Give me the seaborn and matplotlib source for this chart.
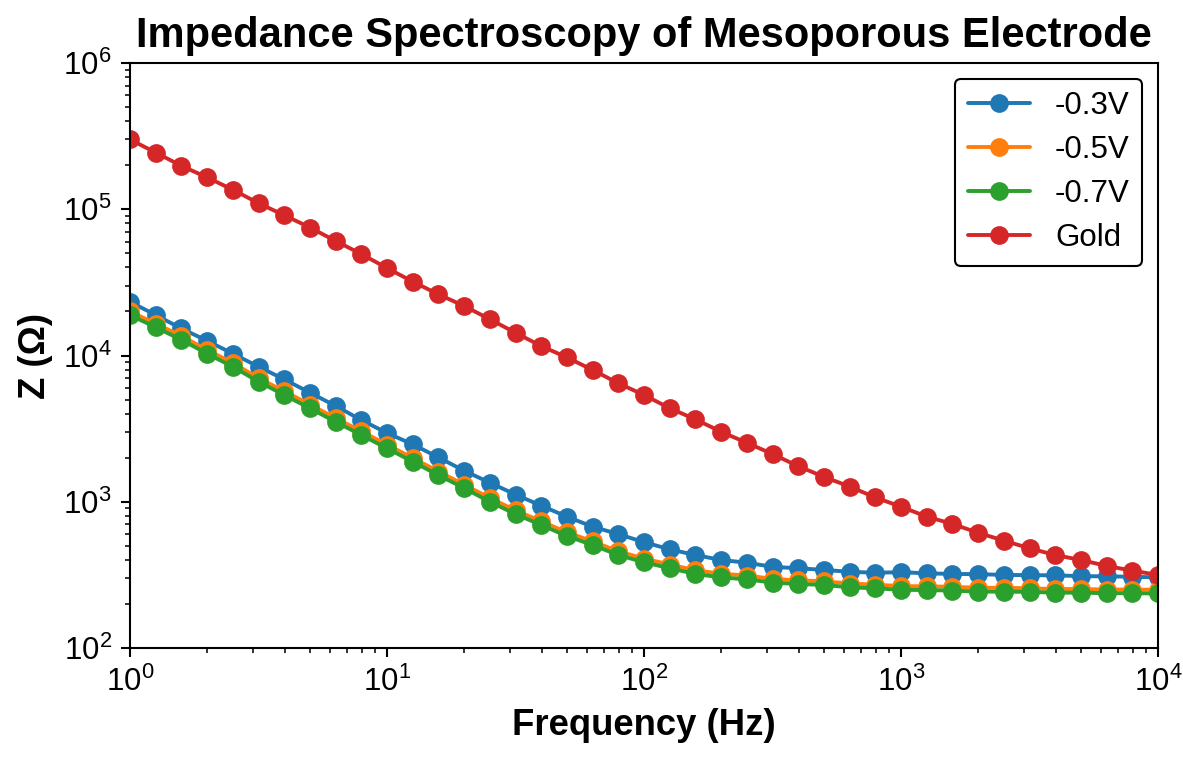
import numpy as np
import pandas as pd
import matplotlib
matplotlib.use("Agg")
import matplotlib.pyplot as plt
import seaborn as sns

# ---- data ----
freq = np.logspace(0, 4, 41)

z_m03 = [2.33e4, 1.89e4, 1.53e4, 1.26e4, 1.03e4, 8380, 6870, 5570, 4520, 3620,
         2950, 2470, 2010, 1630, 1350, 1120, 940, 791, 675, 601,
         529, 473, 432, 400, 383, 359, 351, 342, 332, 327,
         330, 324, 321, 320, 316, 315, 314, 310, 309, 307, 304]
z_m05 = [2.0e4, 1.65e4, 1.36e4, 1.09e4, 8900, 7000, 5700, 4620, 3730, 3030,
         2460, 1990, 1610, 1310, 1060, 873, 735, 618, 536, 458,
         409, 372, 340, 322, 313, 297, 290, 286, 276, 271,
         265, 264, 262, 258, 258, 256, 253, 253, 251, 251, 250]
z_m07 = [1.89e4, 1.56e4, 1.28e4, 1.03e4, 8380, 6630, 5370, 4360, 3520, 2860,
         2320, 1880, 1520, 1240, 1000, 824, 693, 583, 506, 432,
         386, 351, 321, 304, 295, 280, 274, 270, 260, 256,
         250, 249, 247, 243, 243, 242, 239, 239, 237, 237, 236]
z_gold = [3.0e5, 2.44e5, 1.98e5, 1.65e5, 1.36e5, 1.10e5, 9.1e4, 7.5e4, 6.07e4, 4.94e4,
          3.96e4, 3.2e4, 2.62e4, 2.18e4, 1.77e4, 1.43e4, 1.16e4, 9700, 7960, 6460,
          5370, 4360, 3660, 3010, 2530, 2120, 1750, 1480, 1270, 1070,
          925, 791, 705, 614, 542, 481, 432, 400, 364, 338, 316]

labels = ["-0.3V", "-0.5V", "-0.7V", "Gold"]
colors = ["#1f77b4", "#ff7f0e", "#2ca02c", "#d62728"]

df = pd.concat([
    pd.DataFrame({"Frequency": freq, "Z": vals, "series": lab})
    for lab, vals in zip(labels, [z_m03, z_m05, z_m07, z_gold])
], ignore_index=True)

# ---- style ----
sns.set_style("ticks")
plt.rcParams["font.family"] = ["Liberation Sans", "DejaVu Sans"]
plt.rcParams["mathtext.fontset"] = "custom"
plt.rcParams["mathtext.rm"] = "Liberation Sans"
plt.rcParams["mathtext.it"] = "Liberation Sans:italic"
plt.rcParams["mathtext.bf"] = "Liberation Sans:bold"
for key in ["axes.edgecolor", "xtick.color", "ytick.color", "text.color",
            "axes.labelcolor", "xtick.labelcolor", "ytick.labelcolor"]:
    plt.rcParams[key] = "black"
plt.rcParams["axes.linewidth"] = 0.8

dpi = 187.5
fig, ax = plt.subplots(figsize=(1183 / dpi, 758 / dpi), dpi=dpi)
fig.subplots_adjust(left=0.1099, right=0.9789, top=0.9169, bottom=0.1451)

sns.lineplot(data=df, x="Frequency", y="Z", hue="series", hue_order=labels,
             palette=colors, marker="o", markersize=7.2, markeredgewidth=0,
             linewidth=1.5, ax=ax, sort=False)

ax.set_xscale("log")
ax.set_yscale("log")
ax.set_xlim(1, 1e4)
ax.set_ylim(1e2, 1e6)

ax.set_title("Impedance Spectroscopy of Mesoporous Electrode", fontsize=16,
             fontweight="bold", color="black")
ax.set_xlabel("Frequency (Hz)", fontsize=14, fontweight="bold")
ax.set_ylabel("Z (Ω)", fontsize=14, fontweight="bold")
ax.tick_params(axis="both", which="major", labelsize=12)

leg = ax.legend(loc="upper right", fontsize=12, frameon=True, fancybox=True,
                edgecolor="black", framealpha=1, labelspacing=0.45)
leg.get_frame().set_linewidth(0.8)

fig.savefig("out.png", dpi=dpi)
